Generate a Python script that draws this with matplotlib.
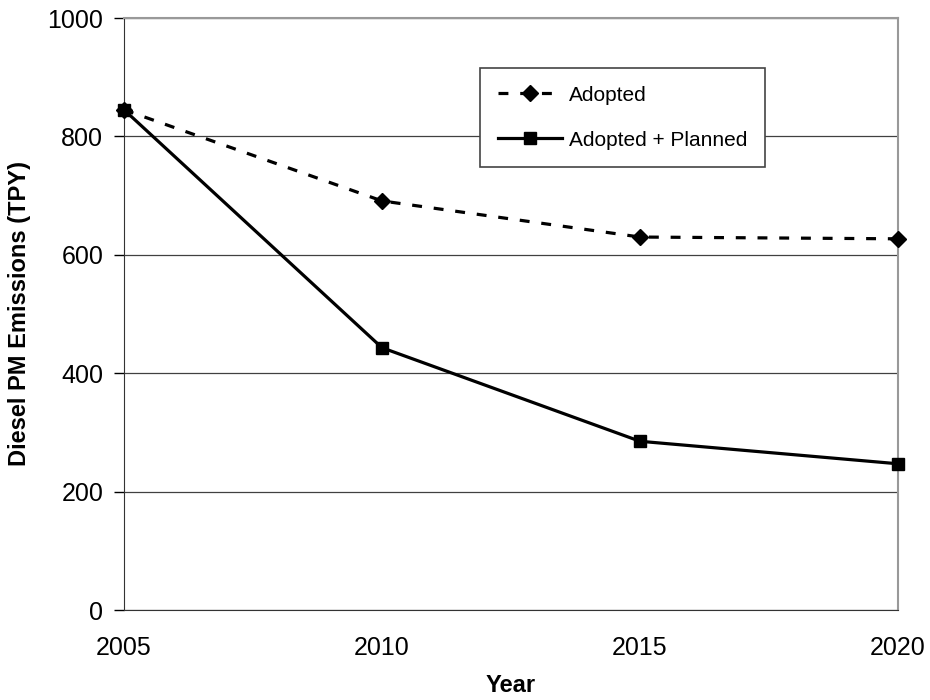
import matplotlib
matplotlib.use("Agg")
import matplotlib.pyplot as plt

plt.rcParams['font.family'] = ['Liberation Sans', 'DejaVu Sans']

years = [2005, 2010, 2015, 2020]
adopted = [845, 691, 630, 627]
adopted_planned = [845, 443, 285, 247]
yticks = [0, 200, 400, 600, 800, 1000]

fig = plt.figure(figsize=(9.3, 7.0), dpi=100)
ax = fig.add_axes([124/930, 90/700, (898-124)/930, (610-18)/700])

ax.plot(years, adopted, color='black', linestyle=(0, (3.1, 3.7)), linewidth=2.3,
        marker='D', markersize=8, label='Adopted', clip_on=False, zorder=3)
ax.plot(years, adopted_planned, color='black', linestyle='-', linewidth=2.3,
        marker='s', markersize=9, label='Adopted + Planned', clip_on=False, zorder=3)

ax.set_xlim(2005, 2020)
ax.set_ylim(0, 1000)
ax.set_xticks(years)
ax.set_yticks(yticks)
ax.tick_params(axis='x', length=0, labelsize=18, pad=19)
ax.tick_params(axis='y', direction='out', length=7, width=1, labelsize=18, pad=8)
ax.yaxis.grid(True, color='#404040', linewidth=0.9)
ax.set_axisbelow(True)

ax.spines['top'].set_color('#999999')
ax.spines['top'].set_linewidth(1.5)
ax.spines['right'].set_color('#999999')
ax.spines['right'].set_linewidth(1.5)
ax.spines['left'].set_color('#333333')
ax.spines['bottom'].set_color('#333333')

ax.set_xlabel('Year', fontsize=17, fontweight='bold', labelpad=10)
ax.set_ylabel('Diesel PM Emissions (TPY)', fontsize=17, fontweight='bold', labelpad=12)

leg = ax.legend(loc='upper left', bbox_to_anchor=((480-124)/774, (610-68)/592),
                fontsize=15, handlelength=3.1, frameon=True, fancybox=False,
                edgecolor='#444444', framealpha=1, borderpad=0.85, labelspacing=1.25,
                handletextpad=0.3, borderaxespad=0)
leg.get_frame().set_linewidth(1.2)

fig.savefig('out.png', dpi=100)
